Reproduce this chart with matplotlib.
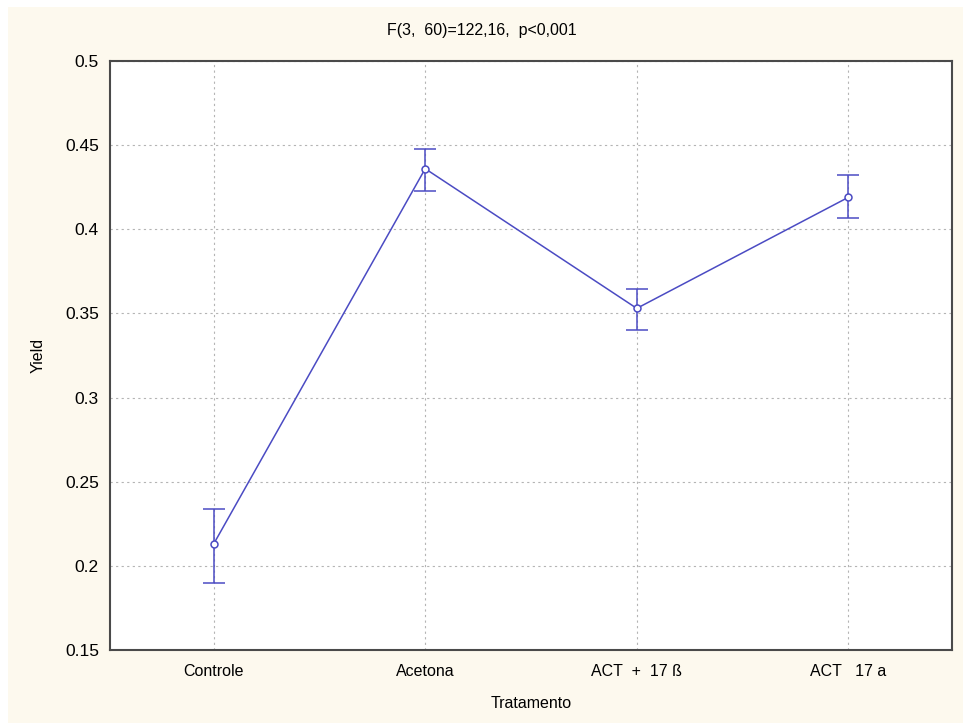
import matplotlib.pyplot as plt
from matplotlib.patches import Rectangle
import numpy as np

plt.rcParams['font.family'] = ['Liberation Sans', 'DejaVu Sans']

# data
groups = ['Controle', 'Acetona', 'ACT  +  17 ß', 'ACT   17 a']
means = [0.213, 0.436, 0.353, 0.419]
upper = [0.234, 0.448, 0.3645, 0.432]
lower = [0.190, 0.4225, 0.340, 0.4065]
yticks = [0.15, 0.2, 0.25, 0.3, 0.35, 0.4, 0.45, 0.5]

blue = '#4B4BC3'

fig = plt.figure(figsize=(9.63, 7.26), dpi=100, facecolor='white')
# cream panel behind the chart
fig.patches.append(Rectangle((8 / 963, 3 / 726), 955 / 963, 716 / 726,
                             transform=fig.transFigure, facecolor='#FDF9EE',
                             edgecolor='none', zorder=-5))

ax = fig.add_axes([110 / 963, 1 - 650 / 726, 842 / 963, 589 / 726])
ax.set_facecolor('white')

x = np.arange(len(groups))
m = np.array(means)
err = [m - np.array(lower), np.array(upper) - m]
ax.errorbar(x, m, yerr=err, color=blue, lw=1.1, capsize=8, capthick=1.1,
            marker='o', ms=5, mfc='white', mec=blue, mew=1.1, zorder=3)

ax.set_xlim(-0.49, 3.49)
ax.set_ylim(0.15, 0.5)
ax.set_xticks(x)
ax.set_xticklabels(groups, fontsize=11.5)
ax.set_yticks(yticks)
ax.set_yticklabels([f'{v:g}' for v in yticks], fontsize=12.5)
ax.tick_params(length=0, pad=8)
ax.tick_params(axis='x', pad=10)

ax.grid(True, color='#B4B4B4', linestyle=(0, (2, 3)), lw=0.8)
for s in ax.spines.values():
    s.set_color('#4A4A4A')
    s.set_linewidth(1.5)

fig.text(482 / 963, 1 - 30 / 726, 'F(3,  60)=122,16,  p<0,001', fontsize=11.5,
         ha='center', va='center')
ax.set_xlabel('Tratamento', fontsize=11.5, labelpad=12)
ax.set_ylabel('Yield', fontsize=11.5, labelpad=14)

fig.savefig('out.png', dpi=100, facecolor=fig.get_facecolor())
